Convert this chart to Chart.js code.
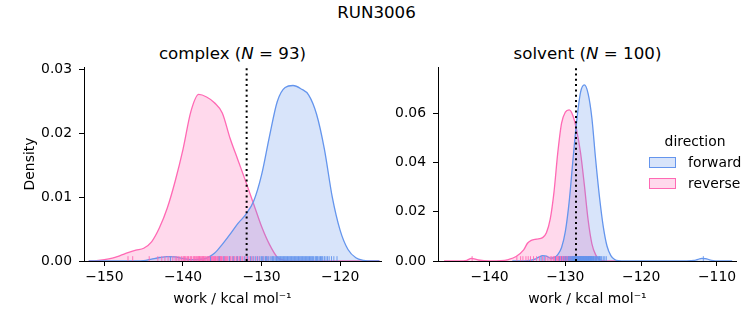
<!DOCTYPE html>
<html>
<head>
<meta charset="utf-8">
<script src="https://cdn.jsdelivr.net/npm/chart.js@4.4.0/dist/chart.umd.min.js"></script>
<style>
  body { margin: 0; width: 753px; height: 325px; position: relative; background: #fff; font-family: 'DejaVu Sans'; color: #000; overflow: hidden; }
  canvas { position: absolute; top: 0; }
  .txt { position: absolute; white-space: nowrap; }
  .title { font-size: 16.67px; line-height: 20px; text-align: center; }
  .leg { font-size: 13.9px; line-height: 16px; }
  .patch { position: absolute; width: 27px; height: 11px; box-sizing: border-box; border-width: 1.5px; border-style: solid; }
</style>
</head>
<body>
<div class="txt title" style="left:0; width:753px; top:3px;">RUN3006</div>
<div class="txt title" style="left:84px; width:297px; top:44px;">complex (<i>N</i> = 93)</div>
<div class="txt title" style="left:438px; width:299px; top:44px;">solvent (<i>N</i> = 100)</div>

<canvas id="complex" width="390" height="325" style="left:0;"></canvas>
<canvas id="solvent" width="368" height="325" style="left:385px;"></canvas>

<div class="txt leg" style="left:645px; width:100px; text-align:center; top:133px;">direction</div>
<div class="patch" style="left:649px; top:157px; border-color:#6495ED; background:rgba(100,149,237,0.25);"></div>
<div class="txt leg" style="left:688px; top:154px;">forward</div>
<div class="patch" style="left:649px; top:178px; border-color:#FF69B4; background:rgba(255,105,180,0.25);"></div>
<div class="txt leg" style="left:688px; top:175px;">reverse</div>

<script>
// ---- complex leg ----
const complexGrid = [-152, -151, -150, -149, -148, -147, -146, -145, -144, -143, -142, -141, -140, -139, -138, -137, -136, -135, -134, -133,
  -132, -131, -130, -129, -128, -127, -126, -125, -124, -123, -122, -121, -120, -119, -118, -117, -116, -115];
const complexForward = [0, 0, 0, 0, 0, 0, 0, 0.00005, 0.0003, 0.00055, 0.0007, 0.00065, 0.0004, 0.0002, 0.00025, 0.00045, 0.0012, 0.0026, 0.0042, 0.0059,
  0.0073, 0.0094, 0.0135, 0.0195, 0.0250, 0.0272, 0.0275, 0.0270, 0.0260, 0.0230, 0.0175, 0.0100, 0.0048, 0.0018, 0.0005, 0.0001, 0, 0];
const complexReverse = [0, 0.00005, 0.0002, 0.00045, 0.00085, 0.0013, 0.0017, 0.0020, 0.0030, 0.0052, 0.0083, 0.0125, 0.0175, 0.0234, 0.0261, 0.0257, 0.0248, 0.0232, 0.0192, 0.0158,
  0.0124, 0.0089, 0.0054, 0.0026, 0.0006, 0.0001, 0, 0, 0, 0, 0, 0, 0, 0, 0, 0, 0, 0];
const complexForwardRug = [-141.6, -136.5, -135.4, -134.8, -134.1, -133.6, -133.1, -132.7, -132.2, -131.8, -131.4, -131.1, -130.8, -130.5, -130.2, -130.0,
  -129.9, -129.7, -129.5, -129.4, -129.3, -129.1, -128.9, -128.7, -128.6, -128.5, -128.4, -128.2, -128.1, -128.0,
  -127.9, -127.8, -127.7, -127.6, -127.5, -127.4, -127.3, -127.2, -127.1, -127.0, -126.9, -126.8,
  -126.7, -126.6, -126.5, -126.4, -126.3, -126.2, -126.1, -126.0, -125.9, -125.8, -125.7, -125.6,
  -125.5, -125.4, -125.3, -125.2, -125.1, -125.0, -124.9, -124.8, -124.7, -124.6, -124.5, -124.4,
  -124.3, -124.2, -124.1, -124.0, -123.9, -123.8, -123.7, -123.6, -123.5, -123.4, -123.2,
  -123.1, -123.0, -122.9, -122.8, -122.6, -122.5, -122.4, -122.3, -122.2, -122.0,
  -121.8, -121.6, -121.4, -121.1, -120.8, -120.4];
const complexReverseRug = [-147.0, -146.4, -144.3, -143.2, -142.7, -142.3, -141.9, -141.6, -141.3, -141.0, -140.8,
  -140.6, -140.4, -140.2, -140.0, -139.9, -139.8, -139.7, -139.5,
  -139.4, -139.3, -139.1, -139.0, -138.9, -138.7, -138.6, -138.5, -138.45, -138.3,
  -138.2, -138.1, -138.0, -137.95, -137.9, -137.8, -137.7, -137.6, -137.5, -137.45, -137.4, -137.3,
  -137.2, -137.1, -136.95, -136.9, -136.8, -136.7, -136.6, -136.5, -136.45, -136.4, -136.3, -136.2,
  -136.1, -136.0, -135.9, -135.85, -135.7, -135.6, -135.5, -135.4, -135.3, -135.25, -135.2, -135.1,
  -135.0, -134.8, -134.7, -134.6, -134.5, -134.4, -134.3, -134.1, -134.0, -133.9,
  -133.7, -133.5, -133.4, -133.2, -133.1, -133.0, -132.8, -132.6,
  -132.4, -132.1, -131.9, -131.6, -131.3, -131.0, -130.6, -130.3, -129.8, -129.3];
const complexMarker = -131.9;

// ---- solvent leg ----
const solventForwardX = [-137, -136, -135, -134, -133.5, -133, -132.5, -132, -131.5, -131, -130.5, -130, -129.5, -129, -128.5, -128, -127.5, -127,
  -126.5, -126, -125.5, -125, -124.5, -124, -123.5, -123, -122, -114, -113, -112.5, -112, -111.5, -111, -110.5, -110, -108];
const solventForwardY = [0, 0, 0.0001, 0.0008, 0.0016, 0.0022, 0.0020, 0.0012, 0.0014, 0.0026, 0.0055, 0.012, 0.024, 0.041, 0.057, 0.0685, 0.0715, 0.068,
  0.058, 0.041, 0.026, 0.014, 0.006, 0.0022, 0.0006, 0.0001, 0, 0, 0.0002, 0.0007, 0.00105, 0.001, 0.0005, 0.00015, 0, 0];
const solventReverseX = [-146, -144, -143, -142.4, -141.5, -140, -138.5, -137.5, -136.5, -135.5, -135, -134.5, -133.8, -133, -132.5, -132,
  -131.5, -131, -130.5, -130, -129.5, -129, -128.5, -128, -127.5, -127, -126.5, -126, -125.5, -125, -124, -123];
const solventReverseY = [0, 0, 0.0003, 0.0011, 0.0004, 0, 0.0001, 0.0006, 0.0018, 0.0045, 0.0072, 0.0084, 0.0089, 0.0095, 0.0115, 0.017,
  0.028, 0.044, 0.056, 0.0605, 0.0614, 0.059, 0.053, 0.044, 0.031, 0.0167, 0.007, 0.0025, 0.0006, 0.0001, 0, 0];
const solventForwardRug = [-133.2, -132.8, -131.3, -130.8, -130.5, -130.2, -130.0, -129.8, -129.6, -129.5,
  -129.4, -129.3, -129.2, -129.1, -129.05, -129.0, -128.95, -128.9, -128.85, -128.8, -128.75, -128.7, -128.65,
  -128.6, -128.55, -128.5, -128.48, -128.45, -128.4, -128.35, -128.32, -128.3, -128.25, -128.2, -128.18, -128.15,
  -128.1, -128.05, -128.02, -128.0, -127.95, -127.9, -127.88, -127.85, -127.8, -127.75, -127.72, -127.7, -127.65,
  -127.6, -127.58, -127.55, -127.5, -127.45, -127.42, -127.4, -127.35, -127.3, -127.28, -127.25, -127.2, -127.15,
  -127.12, -127.1, -127.05, -127.0, -126.98, -126.95, -126.9, -126.85, -126.82, -126.8, -126.75, -126.7, -126.68, -126.65,
  -126.6, -126.55, -126.5, -126.45, -126.4, -126.3, -126.25, -126.2, -126.1, -126.0, -125.95, -125.9, -125.8,
  -125.7, -125.6, -125.55, -125.5, -125.4, -125.3, -125.2, -125.0, -124.8, -124.6, -111.8];
const solventReverseRug = [-142.3, -136.4, -135.9, -135.6, -135.2, -134.9, -134.6, -134.2, -133.8, -133.4, -133.0, -132.6,
  -132.3, -132.0, -131.8, -131.6, -131.5, -131.4, -131.3, -131.2, -131.1, -131.0, -130.9,
  -130.85, -130.8, -130.7, -130.65, -130.6, -130.55, -130.5, -130.4, -130.35, -130.3, -130.25, -130.2,
  -130.15, -130.1, -130.05, -130.0, -129.95, -129.9, -129.85, -129.8, -129.75, -129.7, -129.65, -129.6,
  -129.55, -129.5, -129.45, -129.4, -129.35, -129.3, -129.25, -129.2, -129.15, -129.1, -129.05, -129.0,
  -128.95, -128.9, -128.85, -128.8, -128.75, -128.7, -128.65, -128.6, -128.55, -128.5, -128.45, -128.4,
  -128.3, -128.25, -128.2, -128.15, -128.1, -128.0, -127.9, -127.8, -127.7, -127.6, -127.5,
  -127.4, -127.3, -127.2, -127.0, -126.8, -126.6, -126.3, -126.0];
const solventMarker = -128.6;

// tick labels
const complexXTicks = [-150, -140, -130, -120];
const complexYTicks = [0, 0.01, 0.02, 0.03];
const solventXTicks = [-140, -130, -120, -110];
const solventYTicks = [0, 0.02, 0.04, 0.06];

const BLUE = '#6495ED', BLUE_FILL = 'rgba(100,149,237,0.25)', BLUE_RUG = 'rgba(100,149,237,0.9)';
const PINK = '#FF69B4', PINK_FILL = 'rgba(255,105,180,0.25)', PINK_RUG = 'rgba(255,105,180,0.9)';

Chart.defaults.font.family = "'DejaVu Sans'";
Chart.defaults.font.size = 13.9;
Chart.defaults.color = '#000';

function kde(xs, ys, line, fill) {
  return {
    data: xs.map((x, i) => ({x: x, y: ys[i]})),
    borderColor: line, backgroundColor: fill, borderWidth: 1.3,
    fill: 'origin', pointRadius: 0, cubicInterpolationMode: 'monotone'
  };
}

function rug(xs, yMax, color) {
  // seaborn rug: 2.5% of the axes height, centred at half of that
  return {
    data: xs.map(x => ({x: x, y: yMax * 0.0125})),
    showLine: false, pointStyle: 'line', rotation: 90, pointRadius: 2.4,
    borderColor: color, borderWidth: 1, pointHoverRadius: 0
  };
}

const minus = v => String(v).replace('-', '\u2212');

function makeChart(id, o) {
  return new Chart(document.getElementById(id), {
    type: 'line',
    data: {
      datasets: [
        { data: [{x: o.marker, y: 0}, {x: o.marker, y: o.yMax}], borderColor: '#000', borderWidth: 2,
          borderDash: [2, 3.3], pointRadius: 0, fill: false },
        rug(o.fwdRug, o.yMax, BLUE_RUG),
        rug(o.revRug, o.yMax, PINK_RUG),
        kde(o.fwdX, o.fwdY, BLUE, BLUE_FILL),
        kde(o.revX, o.revY, PINK, PINK_FILL)
      ]
    },
    options: {
      responsive: false, animation: false, devicePixelRatio: 1,
      layout: { padding: { top: 67, right: o.padRight, left: 0, bottom: 0 } },
      plugins: { legend: { display: false }, tooltip: { enabled: false } },
      events: [],
      scales: {
        x: {
          type: 'linear', min: o.xMin, max: o.xMax, z: 1,
          afterFit: s => { s.height = 64; },
          afterBuildTicks: s => { s.ticks = o.xTicks.map(v => ({value: v})); },
          grid: { drawOnChartArea: false, tickLength: 5, color: '#000' },
          border: { color: '#000', width: 1 },
          ticks: { padding: 3, maxRotation: 0, autoSkip: false, callback: v => minus(v) },
          title: { display: true, text: 'work / kcal mol\u207B\u00B9', padding: { top: 0, bottom: 17 } }
        },
        y: {
          type: 'linear', min: 0, max: o.yMax, z: 1,
          afterFit: s => { s.width = o.yWidth; },
          afterBuildTicks: s => { s.ticks = o.yTicks.map(v => ({value: v})); },
          grid: { drawOnChartArea: false, tickLength: 5, color: '#000' },
          border: { color: '#000', width: 1 },
          ticks: { padding: 7, callback: v => v.toFixed(2) },
          title: { display: o.yTitle, text: 'Density', padding: { top: 22, bottom: 0 } }
        }
      }
    }
  });
}

makeChart('complex', {
  fwdX: complexGrid, fwdY: complexForward, revX: complexGrid, revY: complexReverse,
  fwdRug: complexForwardRug, revRug: complexReverseRug, marker: complexMarker,
  xMin: -152.6, xMax: -114.8, yMax: 0.0304, xTicks: complexXTicks, yTicks: complexYTicks,
  yWidth: 84, padRight: 9, yTitle: true
});

makeChart('solvent', {
  fwdX: solventForwardX, fwdY: solventForwardY, revX: solventReverseX, revY: solventReverseY,
  fwdRug: solventForwardRug, revRug: solventReverseRug, marker: solventMarker,
  xMin: -146.8, xMax: -107.4, yMax: 0.0788, xTicks: solventXTicks, yTicks: solventYTicks,
  yWidth: 53, padRight: 16.3, yTitle: false
});
</script>
</body>
</html>
